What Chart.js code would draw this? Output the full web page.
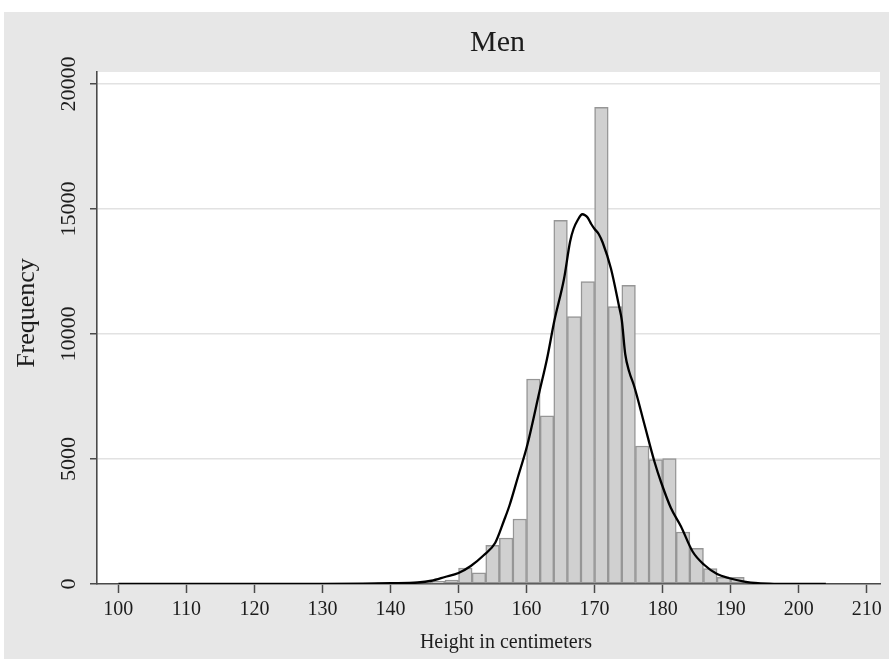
<!DOCTYPE html>
<html>
<head>
<meta charset="utf-8">
<script src="https://cdn.jsdelivr.net/npm/chart.js@4/dist/chart.umd.min.js"></script>
<style>
  html, body { margin: 0; padding: 0; background: #ffffff; overflow: hidden; }
  #wrap { position: absolute; left: 0; top: 0; width: 893px; height: 659px; }
  canvas { display: block; }
</style>
</head>
<body>
<div id="wrap"><canvas id="c" width="893" height="659"></canvas></div>
<script>
// ---- data ----
const chartTitle = "Men";
const xAxisTitle = "Height in centimeters";
const yAxisTitle = "Frequency";

const binWidth = 2;
const binStarts = [100,102,104,106,108,110,112,114,116,118,120,122,124,126,128,130,132,134,136,138,
                   140,142,144,146,148,150,152,154,156,158,160,162,164,166,168,170,172,174,176,178,
                   180,182,184,186,188,190,192,194,196,198,200,202];
const binCounts = [8,5,6,7,9,6,8,10,9,12,11,13,15,14,18,20,24,28,35,42,
                   55,70,90,110,160,640,450,1550,1840,2600,8200,6730,14550,10700,12100,19070,11100,11950,5520,4980,
                   5020,2080,1430,620,270,270,80,40,25,15,10,6];

const densityX = [100,110,120,130,136,140,144,146,148,150,151.8,153.7,155.4,156.7,157.5,158.7,160.1,161.9,163,164.1,
                  165.5,166.4,166.9,167.5,168.2,168.6,169.0,169.5,170.0,170.6,171.2,172.4,173.6,174.0,174.5,175.1,175.8,177.3,178.8,179.8,
                  181.2,182.7,184.4,186.1,188.0,189.8,192.0,194.0,197,200,204];
const densityY = [0,0,2,5,15,30,60,130,280,440,720,1150,1650,2550,3150,4250,5550,7700,9000,10550,
                  12200,13700,14200,14550,14790,14750,14650,14400,14200,14000,13650,12620,11100,10550,9200,8480,7930,6410,4890,4050,
                  3050,2300,1300,770,400,230,95,30,5,0,0];

const xTickValues = [100,110,120,130,140,150,160,170,180,190,200,210];
const yTickValues = [0,5000,10000,15000,20000];

// ---- build ----
const barData = binStarts.map((s, i) => ({ x: s + binWidth / 2, y: binCounts[i] }));
const lineData = densityX.map((x, i) => ({ x: x, y: densityY[i] }));

const FONT = "'Liberation Serif', 'Times New Roman', serif";
const TEXT = "#1c1c1c";
const AXIS = "#4a4a4a";

const bgPlugin = {
  id: 'stataBg',
  beforeDraw(chart) {
    const ctx = chart.ctx;
    const a = chart.chartArea;
    ctx.save();
    ctx.fillStyle = '#ffffff';
    ctx.fillRect(0, 0, chart.width, chart.height);
    ctx.fillStyle = '#e7e7e7';
    ctx.fillRect(4, 12, chart.width - 8, chart.height + 20);
    ctx.fillStyle = '#ffffff';
    ctx.fillRect(a.left, a.top, a.right - a.left, a.bottom - a.top);
    ctx.restore();
  }
};

// Stata centres its titles slightly differently from Chart.js; nudge where they are drawn.
const titleNudgePlugin = {
  id: 'titleNudge',
  afterLayout(chart) {
    const xs = chart.scales.x, ys = chart.scales.y, tb = chart.titleBlock;
    if (xs && !xs.__nudged) {
      const o = xs.drawTitle;
      xs.drawTitle = function () { const l = this.left; this.left = l + 35; o.call(this); this.left = l; };
      xs.__nudged = true;
    }
    if (ys && !ys.__nudged) {
      const o = ys.drawTitle;
      ys.drawTitle = function () { const b = this.bottom; this.bottom = b - 30; o.call(this); this.bottom = b; };
      ys.__nudged = true;
    }
    if (tb && !tb.__nudged) {
      const o = tb.draw;
      tb.draw = function (...args) { const l = this.left; this.left = l + 18; o.apply(this, args); this.left = l; };
      tb.__nudged = true;
    }
  }
};

new Chart(document.getElementById('c'), {
  type: 'bar',
  data: {
    datasets: [
      {
        type: 'line',
        label: 'density',
        data: lineData,
        borderColor: '#000000',
        borderWidth: 2.3,
        pointRadius: 0,
        fill: false,
        cubicInterpolationMode: 'monotone',
        order: 0
      },
      {
        type: 'bar',
        label: 'Frequency',
        data: barData,
        backgroundColor: '#d0d0d0',
        borderColor: '#969696',
        borderWidth: 1.5,
        borderSkipped: false,
        barPercentage: 1,
        categoryPercentage: 1,
        order: 1
      }
    ]
  },
  options: {
    responsive: false,
    animation: false,
    devicePixelRatio: 1,
    layout: { padding: { left: 0, right: 13, top: 0, bottom: 0 } },
    plugins: {
      legend: { display: false },
      tooltip: { enabled: false },
      title: {
        display: true,
        text: chartTitle,
        fullSize: false,
        color: TEXT,
        font: { family: FONT, size: 30, weight: 'normal', lineHeight: 1.2 },
        padding: { top: 25, bottom: 11 }
      }
    },
    scales: {
      x: {
        type: 'linear',
        min: 96.86,
        max: 211.95,
        offset: false,
        afterBuildTicks: (s) => { s.ticks = xTickValues.map(v => ({ value: v })); },
        afterFit: (s) => { s.height = 75; },
        ticks: {
          color: TEXT,
          font: { family: FONT, size: 20 },
          padding: 5,
          maxRotation: 0,
          minRotation: 0,
          autoSkip: false,
          callback: (v) => String(v)
        },
        grid: {
          offset: false,
          drawOnChartArea: false,
          drawTicks: true,
          tickLength: 9,
          tickColor: AXIS,
          tickWidth: 1.5
        },
        border: { display: true, color: AXIS, width: 1.6 },
        title: {
          display: true,
          text: xAxisTitle,
          color: TEXT,
          font: { family: FONT, size: 20, lineHeight: 1.2 },
          padding: { top: 0, bottom: 4 }
        }
      },
      y: {
        type: 'linear',
        min: 0,
        max: 20480,
        afterBuildTicks: (s) => { s.ticks = yTickValues.map(v => ({ value: v })); },
        afterFit: (s) => { s.width = 97; },
        ticks: {
          color: TEXT,
          font: { family: FONT, size: 22 },
          minRotation: 90,
          maxRotation: 90,
          crossAlign: 'center',
          padding: -6.5,
          autoSkip: false,
          callback: (v) => String(v)
        },
        grid: {
          color: '#e2e2e2',
          lineWidth: 1.5,
          drawTicks: true,
          tickLength: 7,
          tickColor: AXIS,
          tickWidth: 1.5
        },
        border: { display: true, color: AXIS, width: 1.6 },
        title: {
          display: true,
          text: yAxisTitle,
          color: TEXT,
          font: { family: FONT, size: 26, lineHeight: 1.2 },
          padding: { top: 12, bottom: 0 }
        }
      }
    }
  },
  plugins: [bgPlugin, titleNudgePlugin]
});
</script>
</body>
</html>
